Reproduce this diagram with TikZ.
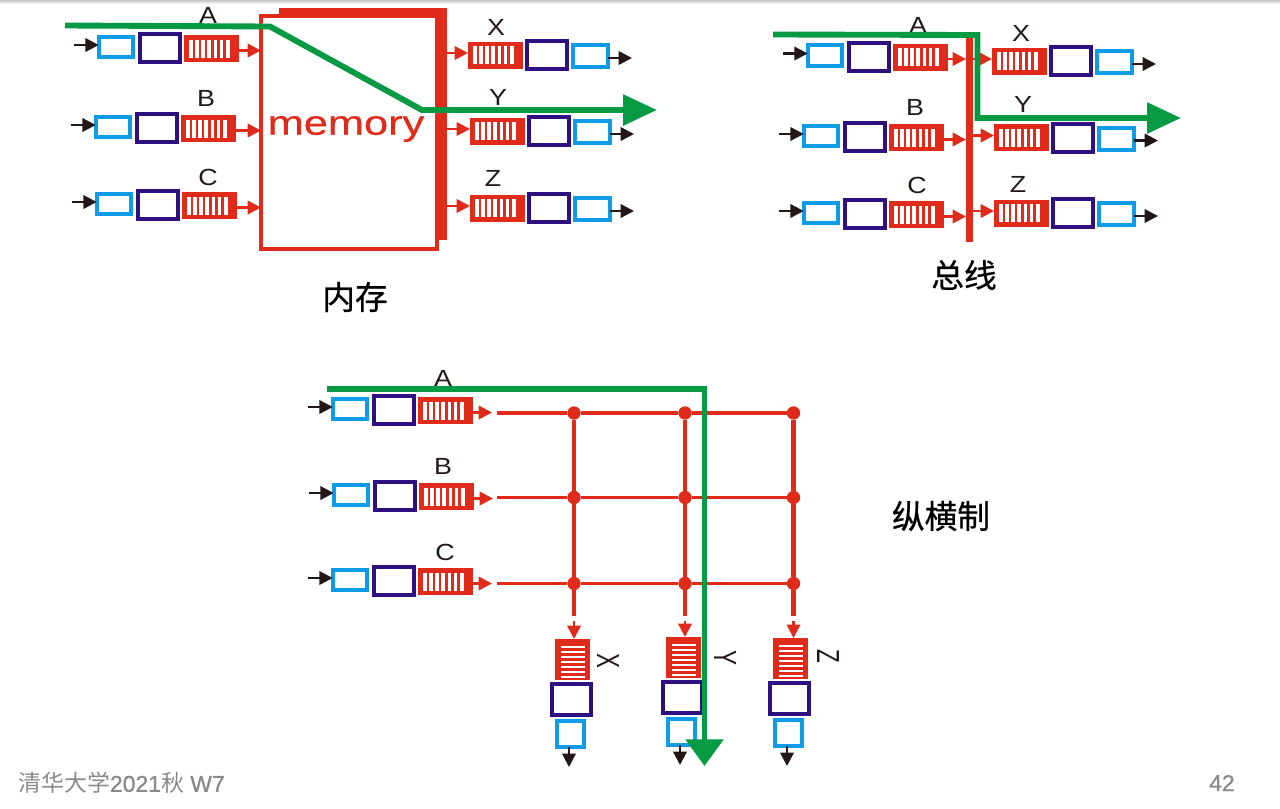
\documentclass[tikz,border=0pt]{standalone}
\usepackage{fontspec}
\setmainfont{Liberation Sans}
\newfontfamily\cjk{Noto Sans CJK SC}
\newfontfamily\cjkheavy[FakeBold=0.6]{Noto Sans CJK SC}
\newfontfamily\footlat[FakeBold=1]{Liberation Sans}
\newfontfamily\memfont[FakeBold=0.5]{Liberation Sans}
\usetikzlibrary{arrows.meta,calc}
\definecolor{cred}{HTML}{E02B1B}
\definecolor{cpur}{HTML}{2E1080}
\definecolor{cblu}{HTML}{0E9BE8}
\definecolor{cgrn}{HTML}{079A45}
\definecolor{cblk}{HTML}{231815}
\definecolor{cfoot}{HTML}{8A8A8A}
\tikzset{
  pxbox/.style={inner sep=0pt,outer sep=0pt},
  purplebox/.style={pxbox,draw=cpur,line width=3pt},
  bluebox/.style={pxbox,draw=cblu,line width=2.7pt},
  redbox/.style={pxbox,fill=cred},
  stripe/.style={fill=white,draw=none},
  blackarrow/.style={draw=cblk,line width=1.8pt,-{Triangle[length=10pt,width=10pt]}},
  redarrow/.style={draw=cred,line width=1.9pt,-{Triangle[length=10pt,width=10pt]}},
  greenline/.style={draw=cgrn,line width=4.4pt},
  wire/.style={draw=cred,line width=2.4pt},
  wirev/.style={draw=cred,line width=3.4pt},
  dot/.style={circle,fill=cred,inner sep=0pt,minimum size=10pt},
  letter/.style={inner sep=0pt,text=cblk,font=\fontsize{17.5pt}{18pt}\selectfont},
  sideletter/.style={inner sep=0pt,text=cblk,rotate=-90,font=\fontsize{24pt}{24pt}\selectfont},
  caption/.style={inner sep=0pt,text=black,font=\cjkheavy\fontsize{24.5pt}{26pt}\selectfont},
  foot/.style={inner sep=0pt,text=cfoot,font=\footlat\fontsize{17.2pt}{18pt}\selectfont},
}
\newcommand{\pbox}[6]{%
  \node[#2,minimum width={(#5-(#3))*0.75pt},minimum height={(#6-(#4))*0.75pt}] (#1) at ({(#3+#5)/2},{(#4+#6)/2}) {};}
\newcommand{\lab}[1]{\scalebox{1.15}[1]{#1}}
\newcommand{\sidelab}[1]{\scalebox{0.7}[1]{#1}}
% horizontal red queue with 7 white stripes; #1 name, #2 left, #3 centre y
\newcommand{\hqueue}[3]{%
  \pbox{#1}{redbox}{#2}{#3-13.5}{#2+55}{#3+13.5}
  \foreach \i in {0,...,6} {\fill[stripe] ({#2+5+\i*6.15},{#3-9}) rectangle ({#2+8.6+\i*6.15},{#3+9});}}
% input port: #1 prefix, #2 purple left, #3 centre y
\newcommand{\hin}[3]{%
  \pbox{#1b}{bluebox}{#2-39.25}{#3-11.25}{#2-4.75}{#3+9.25}
  \pbox{#1p}{purplebox}{#2+2}{#3-14}{#2+42}{#3+14}
  \hqueue{#1r}{#2+46}{#3+0.5}
  \coordinate (#1s) at ({#2-64},{#3-3});
  \coordinate (#1t) at ($(#1r.east)+(0,2)$);
  \draw[blackarrow] (#1s) -- (#1s -| #1b.west);}
% output port
\newcommand{\hout}[3]{%
  \hqueue{#1r}{#2-57}{#3}
  \pbox{#1p}{purplebox}{#2+2}{#3-14}{#2+42}{#3+14}
  \pbox{#1b}{bluebox}{#2+47.75}{#3-9.75}{#2+83.25}{#3+12.25}
  \coordinate (#1e) at ({#2+107},{#3+3});
  \coordinate (#1t) at ($(#1r.west)+(0,-2)$);
  \draw[blackarrow] (#1b.east |- #1e) -- (#1e);}
% vertical output port
\newcommand{\vout}[3]{%
  \pbox{#1r}{redbox}{#2+5}{#3-43}{#2+40}{#3-2}
  \foreach \i in {0,...,6} {\fill[stripe] ({#2+11},{#3-36.5+\i*5}) rectangle ({#2+34.5},{#3-33.8+\i*5});}
  \pbox{#1p}{purplebox}{#2+2}{#3+2}{#2+41}{#3+33}
  \pbox{#1b}{bluebox}{#2+6.75}{#3+38.75}{#2+34.25}{#3+65.25}
  \coordinate (#1e) at ({#2+19},{#3+85});
  \draw[blackarrow] (#1b.south -| #1e) -- (#1e);}
\begin{document}
\begin{tikzpicture}[x=0.75pt,y=-0.75pt]
\useasboundingbox (0,0) rectangle (1280,808);
\fill[white] (0,0) rectangle (1280,808);
\shade[top color=black!22,bottom color=white] (0,0) rectangle (1280,4);

% ---------- memory ----------
\pbox{mem}{pxbox,draw=cred,line width=3.2pt}{261}{16}{437}{249}
\pbox{mbar}{redbox}{435}{8}{447}{240}
\pbox{mtop}{redbox}{279}{8}{447}{17}
\node[inner sep=0pt,text=cred,font=\memfont\fontsize{26pt}{26pt}\selectfont] (memtxt) at (346,129) {\scalebox{1.25}[1]{memory}};
\hin{ia}{138}{48}
\hin{ib}{135}{128}
\hin{ic}{136}{205}
\foreach \r in {ia,ib,ic} {\draw[redarrow] (\r t) -- (\r t -| mem.west);}
\hout{ox}{525}{55}
\hout{oy}{527}{131}
\hout{oz}{527}{208}
\foreach \r in {ox,oy,oz} {\draw[redarrow] (\r t -| mbar.east) -- (\r t);}
\node[letter] (la) at (208,15) {\lab{A}};
\node[letter] (lb) at (206,98) {\lab{B}};
\node[letter] (lc) at (208,177) {\lab{C}};
\node[letter] (lx) at (496,27) {\lab{X}};
\node[letter] (ly) at (498,97) {\lab{Y}};
\node[letter] (lz) at (493,178) {\lab{Z}};
\coordinate (g1a) at (65,25.5);
\coordinate (g1b) at (270,26.5);
\coordinate (g1c) at (422,110);
\coordinate (g1d) at (657,110);
\draw[greenline,-{Triangle[length=25.5pt,width=22.5pt]}] (g1a) -- (g1b) -- (g1c) -- (g1d);
\node[caption] (cap1) at (355,297) {内存};

% ---------- bus ----------
\pbox{bus}{redbox}{966}{38}{973}{242}
\hin{ja}{847}{56.5}
\hin{jb}{843}{137}
\hin{jc}{843}{214}
\foreach \r in {ja,jb,jc} {\draw[redarrow] (\r t) -- (\r t -| bus.west);}
\hout{px}{1049}{61}
\hout{py}{1051}{137.5}
\hout{pz}{1051}{213}
\foreach \r in {px,py,pz} {\draw[redarrow] (\r t -| bus.east) -- (\r t);}
\node[letter] (ma) at (918,25) {\lab{A}};
\node[letter] (mb) at (915,107) {\lab{B}};
\node[letter] (mc) at (917,185) {\lab{C}};
\node[letter] (mx) at (1021,33) {\lab{X}};
\node[letter] (my) at (1023,104) {\lab{Y}};
\node[letter] (mz) at (1018,184) {\lab{Z}};
\coordinate (g2a) at (773,34.5);
\coordinate (g2b) at (977.5,35);
\coordinate (g2c) at (977.5,118);
\coordinate (g2d) at (1181,118);
\draw[greenline,-{Triangle[length=25.5pt,width=22.5pt]}] (g2a) -- (g2b) -- (g2c) -- (g2d);
\node[caption] (cap2) at (964,275) {总线};

% ---------- crossbar ----------
\hin{ka}{372}{410}
\hin{kb}{373}{496}
\hin{kc}{372}{581}
\coordinate (sa) at (497,413);
\coordinate (sb) at (497,497.5);
\coordinate (sc) at (497,583.5);
\foreach \r in {a,b,c} {\draw[redarrow] (k\r t) -- ++(19,0);}
\node[dot] (d11) at (574,413) {};
\node[dot] (d12) at (685,413) {};
\node[dot] (d13) at (793.5,413) {};
\node[dot] (d21) at (574,497.5) {};
\node[dot] (d22) at (685,497.5) {};
\node[dot] (d23) at (793.5,497.5) {};
\node[dot] (d31) at (574,583.5) {};
\node[dot] (d32) at (685,583.5) {};
\node[dot] (d33) at (793.5,583.5) {};
\draw[wire] (sa) -- (d11) -- (d12) -- (d13);
\draw[wire] (sb) -- (d21) -- (d22) -- (d23);
\draw[wire] (sc) -- (d31) -- (d32) -- (d33);
\vout{qx}{550}{682}
\vout{qy}{661}{680}
\vout{qz}{768}{681}
\coordinate (vx) at (574,616);
\coordinate (vy) at (685,616);
\coordinate (vz) at (793.5,616);
\draw[wirev] (d11) -- (d21) -- (d31) -- (vx);
\draw[wirev] (d12) -- (d22) -- (d32) -- (vy);
\draw[wirev] (d13) -- (d23) -- (d33) -- (vz);
\foreach \c in {x,y,z} {\coordinate (w\c) at ($(v\c)+(0,5)$); \draw[redarrow] (w\c) -- (w\c |- q\c r.north);}
\node[letter] (na) at (443,378) {\lab{A}};
\node[letter] (nb) at (443,466) {\lab{B}};
\node[letter] (nc) at (445,552) {\lab{C}};
\node[sideletter] (nx) at (608,661) {\sidelab{X}};
\node[sideletter] (ny) at (725,658) {\sidelab{Y}};
\node[sideletter] (nz) at (828,656) {\sidelab{Z}};
\coordinate (g3a) at (327,389);
\coordinate (g3b) at (704.5,389);
\coordinate (g3c) at (704.5,766);
\draw[greenline,-{Triangle[length=20pt,width=27.75pt]}] (g3a) -- (g3b) -- (g3c);
\node[caption] (cap3) at (941,516) {纵横制};

% ---------- footer ----------
\node[foot,anchor=west] (fl) at (18,783) {{\cjk 清华大学}2021{\cjk 秋} W7};
\node[foot,anchor=east] (fr) at (1235,783) {42};
\end{tikzpicture}
\end{document}
